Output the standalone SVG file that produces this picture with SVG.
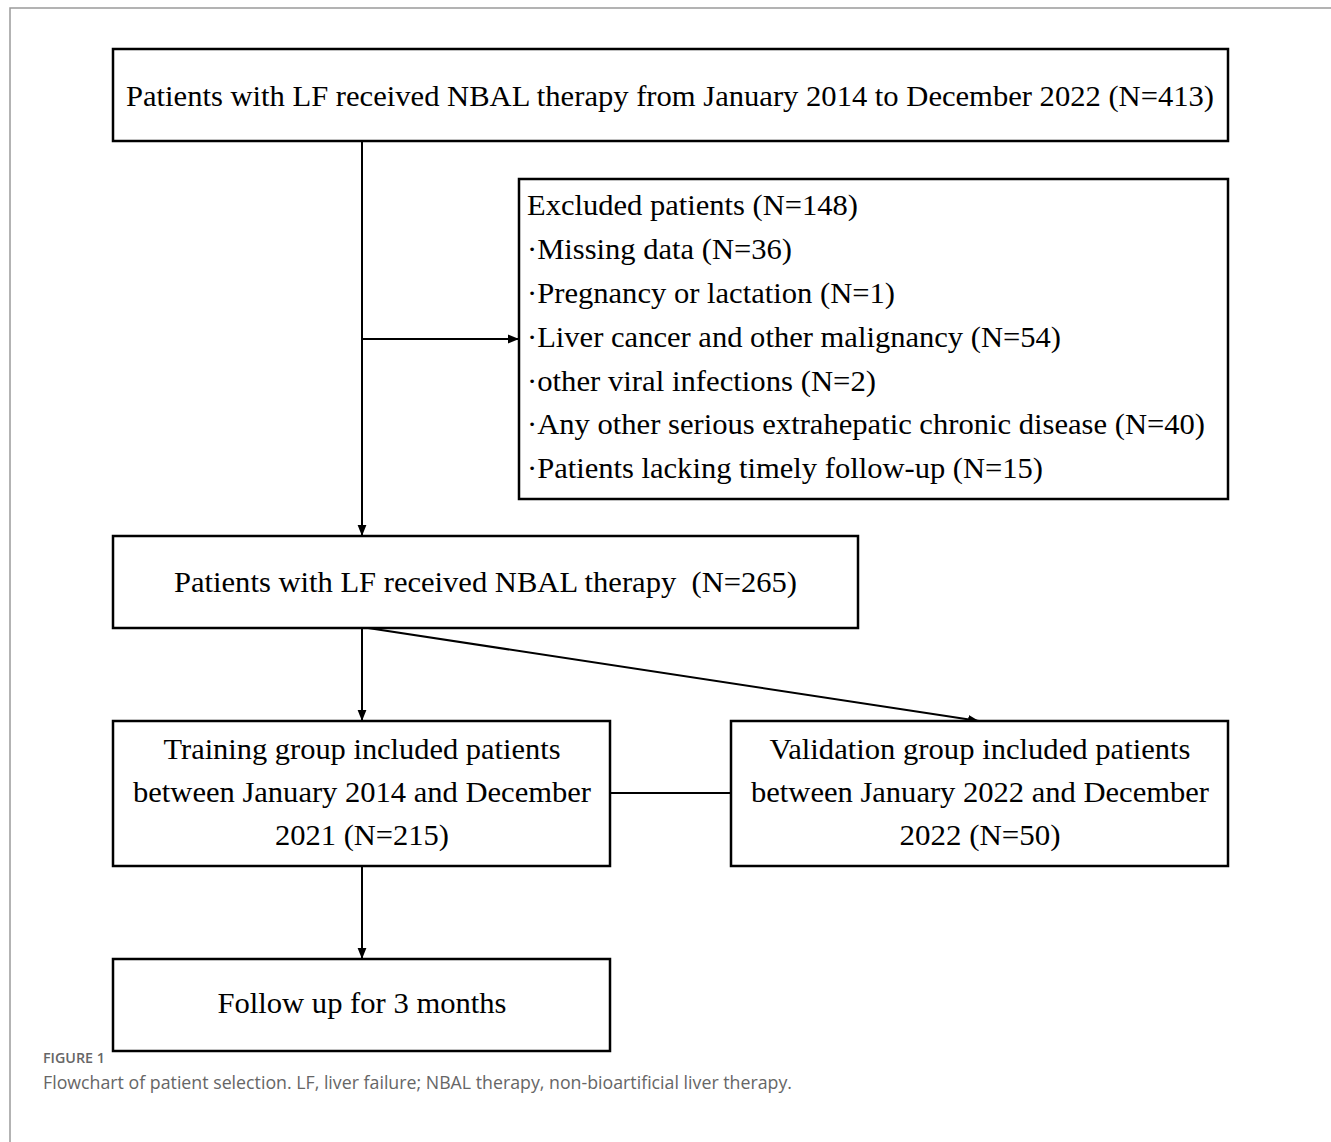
<svg xmlns="http://www.w3.org/2000/svg" width="1331" height="1142" viewBox="0 0 1331 1142">
<defs>
<style>
.box{fill:#fff;stroke:#000;stroke-width:2.5}
.t{font-family:"Liberation Serif","Times New Roman",serif;font-size:30px;fill:#000}
.c{text-anchor:middle}
.ln{stroke:#000;stroke-width:2;fill:none}
.frame{stroke:#9a9a9a;stroke-width:1.5;fill:none}
.cap{font-family:"Open Sans","Noto Sans",sans-serif;fill:#666}
</style>
<marker id="ah" viewBox="0 0 10 10" refX="10" refY="5" markerWidth="11" markerHeight="11" markerUnits="userSpaceOnUse" orient="auto">
<path d="M0,1 L10,5 L0,9 Z" fill="#000"/>
</marker>
</defs>
<rect width="1331" height="1142" fill="#fff"/>
<path class="frame" d="M10,1142 V8 H1331"/>

<g id="connectors">
<line class="ln" x1="362" y1="141" x2="362" y2="536" marker-end="url(#ah)"/>
<line class="ln" x1="362" y1="339" x2="519" y2="339" marker-end="url(#ah)"/>
<line class="ln" x1="362" y1="628" x2="362" y2="721" marker-end="url(#ah)"/>
<line class="ln" x1="368" y1="628" x2="979" y2="721" marker-end="url(#ah)"/>
<line class="ln" x1="610" y1="793" x2="731" y2="793"/>
<line class="ln" x1="362" y1="866" x2="362" y2="959" marker-end="url(#ah)"/>
</g>

<g id="node-all">
<rect class="box" x="113" y="49" width="1115" height="92"/>
<text class="t c" x="670" y="106" textLength="1088" lengthAdjust="spacingAndGlyphs">Patients with LF received NBAL therapy from January 2014 to December 2022 (N=413)</text>
</g>

<g id="node-excluded">
<rect class="box" x="519" y="179" width="709" height="320"/>
<text class="t" x="527" y="215" textLength="331" lengthAdjust="spacingAndGlyphs">Excluded patients (N=148)</text>
<text class="t" x="527" y="259" textLength="265" lengthAdjust="spacingAndGlyphs">·Missing data (N=36)</text>
<text class="t" x="527" y="303" textLength="368" lengthAdjust="spacingAndGlyphs">·Pregnancy or lactation (N=1)</text>
<text class="t" x="527" y="347" textLength="534" lengthAdjust="spacingAndGlyphs">·Liver cancer and other malignancy (N=54)</text>
<text class="t" x="527" y="391" textLength="349" lengthAdjust="spacingAndGlyphs">·other viral infections (N=2)</text>
<text class="t" x="527" y="434" textLength="678" lengthAdjust="spacingAndGlyphs">·Any other serious extrahepatic chronic disease (N=40)</text>
<text class="t" x="527" y="478" textLength="516" lengthAdjust="spacingAndGlyphs">·Patients lacking timely follow-up (N=15)</text>
</g>

<g id="node-included">
<rect class="box" x="113" y="536" width="745" height="92"/>
<text class="t" x="174" y="592" textLength="623" lengthAdjust="spacingAndGlyphs" xml:space="preserve">Patients with LF received NBAL therapy  (N=265)</text>
</g>

<g id="node-training">
<rect class="box" x="113" y="721" width="497" height="145"/>
<text class="t c" x="362" y="759" textLength="397" lengthAdjust="spacingAndGlyphs">Training group included patients</text>
<text class="t c" x="362" y="802" textLength="458" lengthAdjust="spacingAndGlyphs">between January 2014 and December</text>
<text class="t c" x="362" y="845" textLength="174" lengthAdjust="spacingAndGlyphs">2021 (N=215)</text>
</g>

<g id="node-validation">
<rect class="box" x="731" y="721" width="497" height="145"/>
<text class="t c" x="980" y="759" textLength="421" lengthAdjust="spacingAndGlyphs">Validation group included patients</text>
<text class="t c" x="980" y="802" textLength="458" lengthAdjust="spacingAndGlyphs">between January 2022 and December</text>
<text class="t c" x="980" y="845" textLength="161" lengthAdjust="spacingAndGlyphs">2022 (N=50)</text>
</g>

<g id="node-followup">
<rect class="box" x="113" y="959" width="497" height="92"/>
<text class="t c" x="362" y="1013" textLength="289" lengthAdjust="spacingAndGlyphs">Follow up for 3 months</text>
</g>

<text class="cap" x="43" y="1063" font-size="14" font-weight="600" fill="#777" textLength="62" lengthAdjust="spacingAndGlyphs">FIGURE 1</text>
<text class="cap" x="43" y="1089" font-size="18" textLength="749" lengthAdjust="spacingAndGlyphs">Flowchart of patient selection. LF, liver failure; NBAL therapy, non-bioartificial liver therapy.</text>
</svg>
